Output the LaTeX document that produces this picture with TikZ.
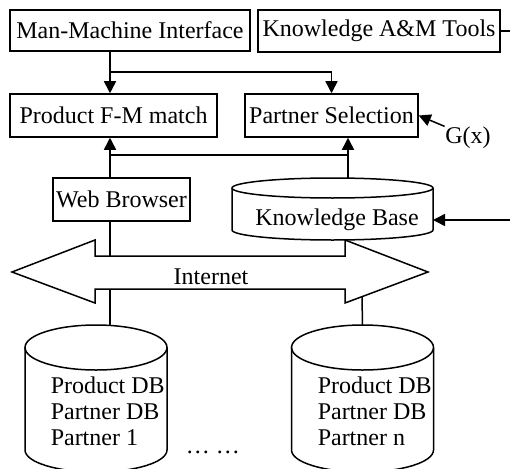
\documentclass[tikz,border=0pt]{standalone}
\usepackage{fontspec}
\setmainfont{Liberation Serif}
\usetikzlibrary{positioning, arrows.meta}

\begin{document}
\begin{tikzpicture}[x=1pt, y=-1pt, line width=1.5pt,
  font=\fontsize{24}{26}\selectfont,
  box/.style={draw, rectangle, inner sep=0pt},
  arr/.style={-{Triangle[length=12pt, width=12pt]}}]
\clip (0,0) rectangle (510,468);

\node[box, minimum width=240, minimum height=41] (mmi) at (130,30.5) {Man-Machine Interface};
\node[box, minimum width=242, minimum height=42] (kam) at (379,31) {Knowledge A\&M Tools};
\node[box, minimum width=207, minimum height=43] (pfm) at (113.5,115.5) {Product F-M match};
\node[box, minimum width=173, minimum height=43] (ps) at (331.5,115.5) {Partner Selection};
\node[inner sep=0pt] (gx) at (468,138) {G(x)};
\node[box, minimum width=137, minimum height=43] (wb) at (121.5,199.5) {Web Browser};

% knowledge base
\draw (232,188) -- (232,230) arc[start angle=180, end angle=0, x radius=100.5, y radius=10] -- (433,188);
\draw (332.5,188) ellipse [x radius=100.5, y radius=10];
\coordinate (kbtop) at (332.5,178);
\node[inner sep=0pt] (kbtext) at (337,220) {Knowledge Base};

% internet
\draw (12,272) -- (95,240) -- (95,256) -- (345,256) -- (345,240) -- (428,272)
  -- (345,303) -- (345,289) -- (95,289) -- (95,303) -- cycle;
\node[inner sep=0pt] (net) at (211,277) {Internet};

% partner databases
\draw (25,347.5) -- (25,450) arc[start angle=180, end angle=0, x radius=71, y radius=22] -- (167,347.5);
\draw (96,347.5) ellipse [x radius=71, y radius=22.5];
\draw (291.5,347.5) -- (291.5,450) arc[start angle=180, end angle=0, x radius=71, y radius=22] -- (433.5,347.5);
\draw (362.5,347.5) ellipse [x radius=71, y radius=22.5];
\coordinate (db1top) at (96,325);
\coordinate (dbntop) at (362.5,325);
\node[inner sep=0pt, align=left, anchor=north west] (db1text) at (50,376) {Product DB\\Partner DB\\Partner 1};
\node[inner sep=0pt, align=left, anchor=north west] (dbntext) at (317,376) {Product DB\\Partner DB\\Partner n};
\node[inner sep=0pt, anchor=base west] (dots) at (185,453) {\ldots{} \ldots};

\coordinate (split) at (110,72);
\coordinate (join) at (110,155);
\coordinate (kbtap) at (348,155);
\coordinate (netwb) at (110,256);
\coordinate (netdb1) at (110,289);
\coordinate (netdbn) at (362,297);

\draw[arr] (split |- mmi.south) -- (split |- pfm.north);
\draw[arr] (split) -| (ps.north);
\draw[arr] (join |- wb.north) -- (join |- pfm.south);
\draw (join) -- (kbtap);
\draw[arr] (kbtap) -- (kbtap |- ps.south);
\draw (kbtap) -- (kbtap |- kbtop);
\draw[arr] (gx.north west) -- (ps.east);
\draw[arr] (kam.east) -- ++(20,0) |- (kbtext -| 433,0);

\draw (join |- wb.south) -- (netwb);
\draw (netdb1) -- (netdb1 |- db1top);
\draw (netdbn) -- (dbntop);
\end{tikzpicture}
\end{document}
